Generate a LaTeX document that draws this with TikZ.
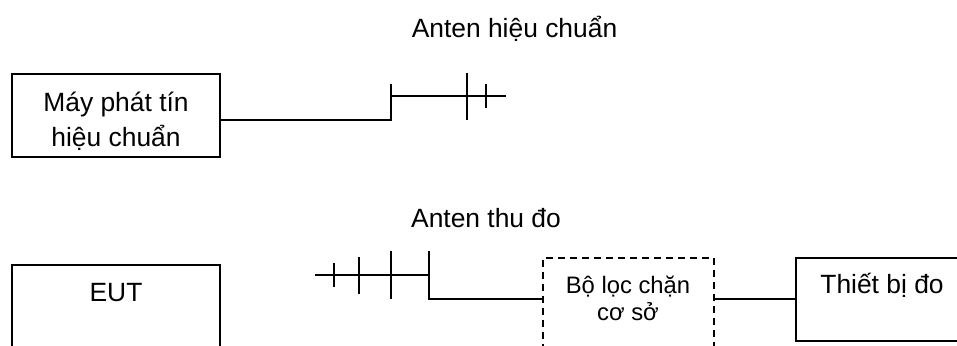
\documentclass[tikz,border=0pt]{standalone}
\usepackage{fontspec}
\setmainfont{Liberation Sans}
\tikzset{
  wire/.style={line width=1.7pt,black},
  boxshape/.style={draw=black,line width=1.7pt,rectangle,inner sep=0pt,outer sep=0pt,anchor=north west},
  dashbox/.style={boxshape,dash pattern=on 7pt off 5pt},
  big/.style={font=\fontsize{26.4}{35}\selectfont,align=center,inner sep=0pt},
  small/.style={font=\fontsize{23.8}{27}\selectfont,align=center,inner sep=0pt}
}
\begin{document}
\begin{tikzpicture}[x=1pt,y=-1pt]
\useasboundingbox (0,0) rectangle (957,345);
\clip (0,0) rectangle (957,345);
% boxes
\node[boxshape,minimum width=208pt,minimum height=83pt] (gen) at (12,74) {};
\node[boxshape,minimum width=208pt,minimum height=100pt] (eut) at (12,265) {};
\node[dashbox,minimum width=171pt,minimum height=100pt] (filter) at (543,258) {};
\node[boxshape,minimum width=190pt,minimum height=83pt] (meter) at (796,258) {};
% texts
\node[big] (t1) at (514.5,29) {Anten hiệu chuẩn};
\node[big] (t2) at (116,121) {Máy phát tín\\hiệu chuẩn};
\node[big] (t3) at (486,218) {Anten thu đo};
\node[big] (t4) at (116,292.5) {EUT};
\node[small] (t5) at (628,298) {Bộ lọc chặn\\cơ sở};
\node[big] (t6) at (882,285) {Thiết bị đo};
% upper antenna
\coordinate (a0) at (391,120);
\coordinate (a1) at (391,84);
\coordinate (a2) at (391,96);
\coordinate (a3) at (506,96);
\draw[wire] (gen.east |- a0) -- (a0) -- (a1);
\draw[wire] (a2) -- (a3);
\coordinate (u1a) at (467,73); \coordinate (u1b) at (467,120);
\coordinate (u2a) at (486,84); \coordinate (u2b) at (486,108);
\draw[wire] (u1a) -- (u1b);
\draw[wire] (u2a) -- (u2b);
% lower antenna
\coordinate (b0) at (429,299);
\coordinate (b1) at (429,251);
\coordinate (b2) at (429,275);
\coordinate (b3) at (315,275);
\draw[wire] (filter.west |- b0) -- (b0) -- (b1);
\draw[wire] (b2) -- (b3);
\coordinate (l1a) at (334,263); \coordinate (l1b) at (334,287);
\coordinate (l2a) at (359,257); \coordinate (l2b) at (359,294);
\coordinate (l3a) at (391,251); \coordinate (l3b) at (391,299);
\draw[wire] (l1a) -- (l1b);
\draw[wire] (l2a) -- (l2b);
\draw[wire] (l3a) -- (l3b);
\draw[wire] (filter.east |- b0) -- (meter.west |- b0);
\end{tikzpicture}
\end{document}
